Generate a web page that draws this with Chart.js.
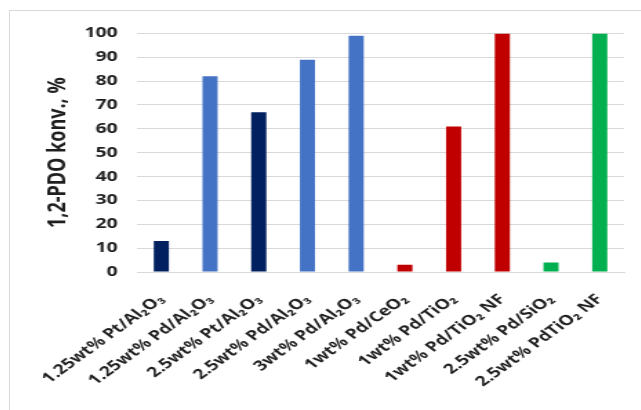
<!DOCTYPE html>
<html>
<head>
<meta charset="utf-8">
<script src="https://cdn.jsdelivr.net/npm/chart.js@4"></script>
<style>
  body { margin: 0; background: #fff; overflow: hidden; }
  #frame {
    position: absolute; left: 9px; top: 10px; width: 640px; height: 410px;
    border-left: 1px solid #d9d9d9; border-top: 1px solid #d9d9d9;
  }
  /* chart is laid out narrow and then widened, so text comes out broad */
  #wrap {
    position: absolute; left: 10px; top: 11px; width: 457px; height: 399px;
    transform: scaleX(1.38); transform-origin: 0 0;
  }
</style>
</head>
<body>
<div id="frame"></div>
<div id="wrap"><canvas id="grafico"></canvas></div>
<script>
const katalizatori = [
  "1.25wt% Pt/Al₂O₃",
  "1.25wt% Pd/Al₂O₃",
  "2.5wt% Pt/Al₂O₃",
  "2.5wt% Pd/Al₂O₃",
  "3wt% Pd/Al₂O₃",
  "1wt% Pd/CeO₂",
  "1wt% Pd/TiO₂",
  "1wt% Pd/TiO₂ NF",
  "2.5wt% Pd/SiO₂",
  "2.5wt% PdTiO₂ NF",
]
const konverzija = [13, 82, 67, 89, 99, 3, 61, 100, 4, 100]
const yTicks = [0, 10, 20, 30, 40, 50, 60, 70, 80, 90, 100]

const boje = ["#002060", "#4472c4", "#002060", "#4472c4", "#4472c4",
  "#c00000", "#c00000", "#c00000", "#00b050", "#00b050"]

const ctx = document.getElementById("grafico").getContext("2d")
new Chart(ctx, {
  type: "bar",
  data: {
    labels: katalizatori,
    datasets: [{
      data: konverzija,
      backgroundColor: boje,
      borderWidth: 0,
      barPercentage: 0.31,
      categoryPercentage: 1,
    }],
  },
  options: {
    responsive: true,
    maintainAspectRatio: false,
    animation: false,
    layout: { padding: { top: 19, right: 12, left: 0, bottom: 0 } },
    plugins: { legend: { display: false }, tooltip: { enabled: false } },
    scales: {
      x: {
        grid: { display: false, drawTicks: false },
        border: { color: "#d9d9d9" },
        ticks: {
          minRotation: 45, maxRotation: 45, autoSkip: false, padding: 19,
          color: "#1f1f1f",
          font: { family: "Open Sans", weight: "bold", size: 14 },
        },
        afterFit: s => {
          s.height = 138
          s.paddingLeft = 0
          s.paddingRight = 0
        },
      },
      y: {
        min: 0, max: 100,
        afterBuildTicks: s => { s.ticks = yTicks.map(v => ({ value: v })) },
        grid: { color: "#d9d9d9", drawTicks: false },
        border: { display: false },
        ticks: {
          padding: 14, color: "#1f1f1f",
          font: { family: "Open Sans", weight: "bold", size: 14 },
        },
        title: {
          display: true, text: "1,2-PDO konv., %", color: "#1f1f1f",
          font: { family: "Open Sans", weight: "bold", size: 18 },
          padding: { top: 24, bottom: 0 },
        },
        afterFit: s => { s.width = 92 },
      },
    },
  },
})
</script>
</body>
</html>
